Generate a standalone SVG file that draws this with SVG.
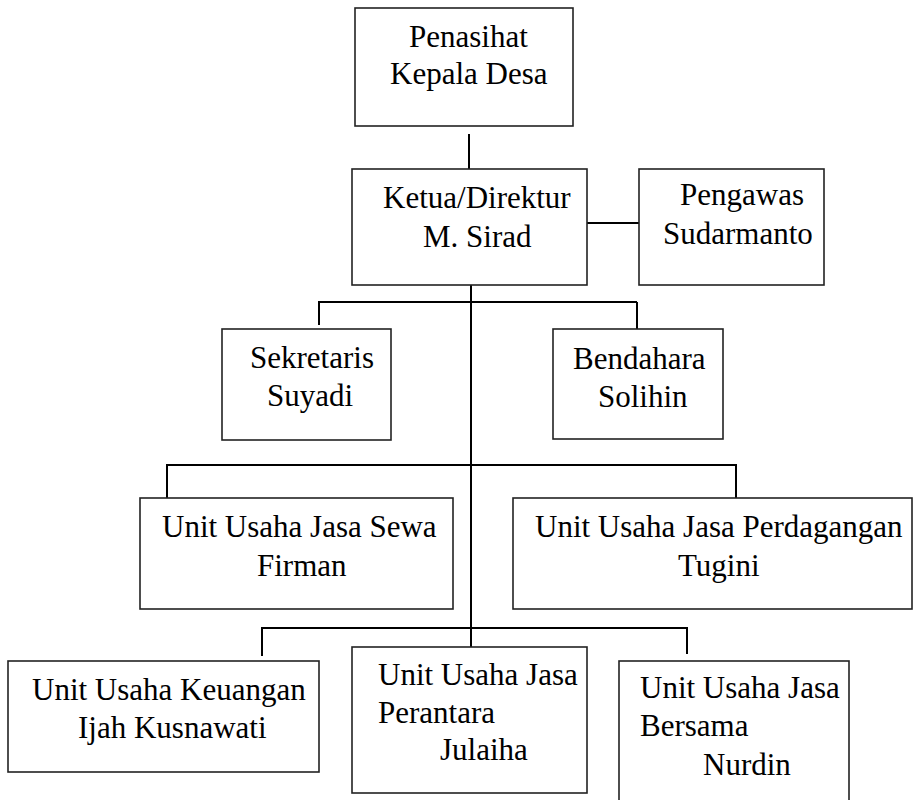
<svg xmlns="http://www.w3.org/2000/svg" width="913" height="800" viewBox="0 0 913 800">
<style>
.box{fill:#fff;stroke:#222;stroke-width:1.6}
.t{font-family:"Liberation Serif","Times New Roman",serif;font-size:31px;fill:#000}
.c{stroke:#000;stroke-width:2;fill:none}
</style>
<rect width="913" height="800" fill="#fff"/>
<g id="connectors">
<line class="c" x1="469" y1="134" x2="469" y2="169"/>
<line class="c" x1="587" y1="223" x2="640" y2="223"/>
<line class="c" x1="471" y1="284" x2="471" y2="647" stroke-width="2.4"/>
<polyline class="c" points="319,325 319,302 637,302"/>
<line class="c" x1="637" y1="302" x2="637" y2="329" stroke-width="3"/>
<polyline class="c" points="167,498 167,465 736,465 736,498"/>
<polyline class="c" points="262,656 262,628 687,628 687,654"/>
</g>
<g id="penasihat">
<rect class="box" x="355" y="8" width="218" height="118"/>
<text class="t" x="409" y="47">Penasihat</text>
<text class="t" x="390" y="84">Kepala Desa</text>
</g>
<g id="ketua">
<rect class="box" x="352" y="169" width="235" height="116"/>
<text class="t" x="383" y="208">Ketua/Direktur</text>
<text class="t" x="423" y="247">M. Sirad</text>
</g>
<g id="pengawas">
<rect class="box" x="639" y="169" width="185" height="116"/>
<text class="t" x="680" y="205">Pengawas</text>
<text class="t" x="663" y="244">Sudarmanto</text>
</g>
<g id="sekretaris">
<rect class="box" x="222" y="329" width="169" height="111"/>
<text class="t" x="250" y="368">Sekretaris</text>
<text class="t" x="267" y="406">Suyadi</text>
</g>
<g id="bendahara">
<rect class="box" x="553" y="329" width="170" height="110"/>
<text class="t" x="573" y="369">Bendahara</text>
<text class="t" x="598" y="407">Solihin</text>
</g>
<g id="sewa">
<rect class="box" x="140" y="498" width="313" height="111"/>
<text class="t" x="162" y="537">Unit Usaha Jasa Sewa</text>
<text class="t" x="257" y="576">Firman</text>
</g>
<g id="perdagangan">
<rect class="box" x="513" y="498" width="399" height="111"/>
<text class="t" x="535" y="537">Unit Usaha Jasa Perdagangan</text>
<text class="t" x="678" y="576">Tugini</text>
</g>
<g id="keuangan">
<rect class="box" x="8" y="661" width="311" height="111"/>
<text class="t" x="32" y="700">Unit Usaha Keuangan</text>
<text class="t" x="78" y="738">Ijah Kusnawati</text>
</g>
<g id="perantara">
<rect class="box" x="352" y="647" width="235" height="146"/>
<text class="t" x="378" y="685">Unit Usaha Jasa</text>
<text class="t" x="378" y="723">Perantara</text>
<text class="t" x="440" y="760">Julaiha</text>
</g>
<g id="bersama">
<rect class="box" x="619" y="661" width="230" height="150"/>
<text class="t" x="640" y="698">Unit Usaha Jasa</text>
<text class="t" x="640" y="736">Bersama</text>
<text class="t" x="703" y="775">Nurdin</text>
</g>
</svg>
